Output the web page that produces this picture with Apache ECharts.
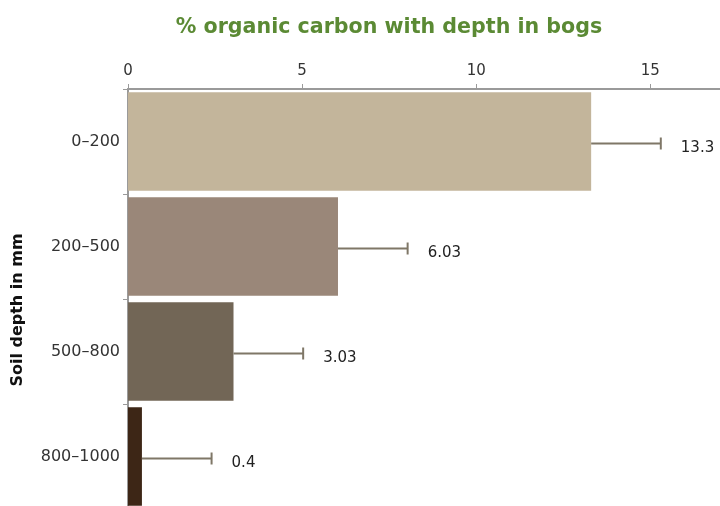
<!DOCTYPE html>
<html>
<head>
<meta charset="utf-8">
<script src="https://cdn.jsdelivr.net/npm/echarts@6/dist/echarts.min.js"></script>
<style>
  html, body { margin: 0; padding: 0; background: #fff; }
  #chart { width: 720px; height: 506px; }
</style>
</head>
<body>
<div id="chart"></div>
<script>
const depths = ["0–200", "200–500", "500–800", "800–1000"];
const carbon = [13.3, 6.03, 3.03, 0.4];
const carbonErr = [2.0, 2.0, 2.0, 2.0];
const barColors = ["#c3b59b", "#9a8779", "#726656", "#3d2616"];
const xTicks = [0, 5, 10, 15];

const chart = echarts.init(document.getElementById("chart"));

chart.setOption({
  animation: false,
  title: {
    text: "% organic carbon with depth in bogs",
    left: 384,
    top: 12,
    textAlign: "center",
    textStyle: { color: "#5b8a34", fontSize: 20.6, fontWeight: "bold", fontFamily: "DejaVu Sans" }
  },
  grid: { left: 128, right: 0, top: 89, bottom: -3, containLabel: false, outerBoundsMode: "none" },
  xAxis: {
    type: "value",
    position: "top",
    min: 0,
    max: 17,
    interval: 5,
    axisLine: { show: true, lineStyle: { color: "#9a9a9a", width: 2 } },
    axisTick: { show: true, length: 5, lineStyle: { color: "#9a9a9a", width: 1 } },
    axisLabel: {
      showMaxLabel: false,
      color: "#333",
      fontSize: 15,
      fontFamily: "DejaVu Sans",
      margin: 10,
      formatter: (v) => (xTicks.includes(v) ? String(v) : "")
    },
    splitLine: { show: false }
  },
  yAxis: {
    type: "category",
    data: depths,
    inverse: true,
    name: "Soil depth in mm",
    nameLocation: "middle",
    nameRotate: 90,
    nameGap: 102,
    nameTextStyle: {
      color: "#111", fontSize: 16, fontWeight: "bold", fontFamily: "DejaVu Sans",
      padding: [0, 22, 0, 0]
    },
    axisLine: { show: true, lineStyle: { color: "#9a9a9a", width: 2 } },
    axisTick: { show: true, length: 5, lineStyle: { color: "#9a9a9a", width: 1 } },
    axisLabel: { color: "#333", fontSize: 16, fontFamily: "DejaVu Sans", margin: 8 }
  },
  series: [
    {
      type: "bar",
      data: carbon.map((v, i) => ({ value: v, itemStyle: { color: barColors[i] } })),
      barCategoryGap: "6%"
    },
    {
      type: "custom",
      data: carbon.map((v, i) => [i, v, v + carbonErr[i]]),
      encode: { x: [1, 2], y: 0 },
      z: 5,
      renderItem: function (params, api) {
        const start = api.coord([api.value(1), api.value(0)]);
        const end = api.coord([api.value(2), api.value(0)]);
        const y = start[1] + 2;
        const stroke = { stroke: "#7f7767", lineWidth: 2 };
        return {
          type: "group",
          children: [
            { type: "line", shape: { x1: start[0], y1: y, x2: end[0], y2: y }, style: stroke },
            { type: "line", shape: { x1: end[0], y1: y - 6, x2: end[0], y2: y + 6 }, style: stroke },
            {
              type: "text",
              x: end[0] + 20,
              y: y + 5,
              style: {
                text: String(carbon[params.dataIndex]),
                fill: "#222",
                font: "15px DejaVu Sans",
                verticalAlign: "middle",
                align: "left"
              }
            }
          ]
        };
      }
    }
  ]
});
</script>
</body>
</html>
